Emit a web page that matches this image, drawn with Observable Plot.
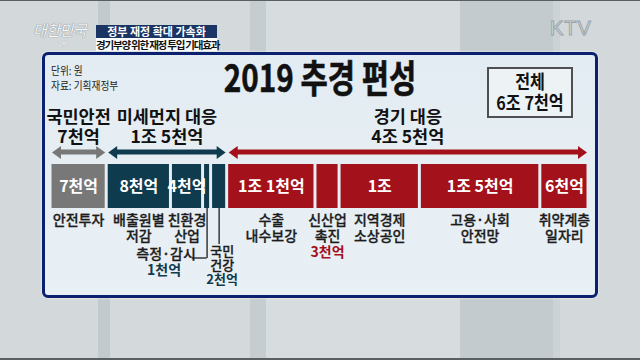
<!DOCTYPE html>
<html>
<head>
<meta charset="utf-8">
<script src="https://cdn.jsdelivr.net/npm/d3@7"></script>
<script src="https://cdn.jsdelivr.net/npm/@observablehq/plot@0.6"></script>
<style>
html,body{margin:0;padding:0;}
body{width:640px;height:360px;overflow:hidden;position:relative;
  font-family:"Noto Sans CJK KR","Noto Sans",sans-serif;
  background:linear-gradient(90deg,#d3d8db 0,#d3d8db 98px,#c3cacd 98px,#c3cacd 110px,#d4d9dc 110px,#d4d9dc 250px,#c6cdd0 250px,#c6cdd0 266px,#d7dcde 266px,#d7dcde 460px,#c4cbcf 460px,#c4cbcf 553px,#ccd2d5 553px,#ccd2d5 560px,#d3d8db 560px);}
.abs{position:absolute;}
#topline{left:0;top:0;width:640px;height:1px;background:#5a5f62;}
#botline{left:0;top:358px;width:640px;height:2px;background:#5a5f62;}
#panel{left:42px;top:52px;width:556px;height:246px;box-sizing:border-box;border:3.5px solid #0b2170;border-radius:6px;
  background:linear-gradient(180deg,#e3ecf2,#e9f0f5);box-shadow:0 0 2px #fff;}
#logo{left:33px;top:21px;font-size:15px;line-height:18px;color:#f6f8f9;font-weight:400;font-style:italic;letter-spacing:-0.5px;
  text-shadow:0 0 1px #7f898e,0 0 1px #7f898e;white-space:nowrap;}
#logo2{left:58px;top:40px;font-size:6px;line-height:8px;color:#f4f6f7;text-shadow:0 0 1px #8f989d;}
#head1{left:96px;top:25px;width:121px;height:13px;background:#1a3464;color:#fff;font-size:11px;font-weight:700;
  text-align:center;line-height:13px;white-space:nowrap;}
#head2{left:96px;top:38px;width:121px;height:13px;background:#fbfcfc;color:#111;font-size:10.5px;font-weight:700;
  letter-spacing:-1.2px;text-align:center;line-height:13px;white-space:nowrap;}
#ktv{left:550px;top:17px;font-family:"Liberation Sans",Arial,sans-serif;font-size:20px;color:#dfe4e6;
  -webkit-text-stroke:1px #9ba4a9;letter-spacing:1px;}
#title{left:0;top:56px;width:640px;text-align:center;font-size:38px;font-weight:700;line-height:40px;color:#111;
  -webkit-text-stroke:0.6px #111;transform:scaleX(.78);transform-origin:320px 0;white-space:nowrap;}
#unit{left:51px;top:63px;font-size:11px;line-height:15px;color:#222;transform:scaleX(.88);transform-origin:0 0;white-space:nowrap;}
#total{left:487px;top:67px;width:86px;height:51px;box-sizing:border-box;border:2px solid #4d4f52;background:#edf2f5;
  text-align:center;font-size:19px;font-weight:700;line-height:21px;padding-top:1px;color:#111;}
#total div{transform:scaleX(.85);white-space:nowrap;}
#chart{left:0;top:0;}
</style>
</head>
<body>
<div class="abs" id="topline"></div>
<div class="abs" id="botline"></div>
<div class="abs" id="logo">대한민국</div>
<div class="abs" id="logo2">2부</div>
<div class="abs" id="head1"></div>
<div class="abs" id="head2"></div>
<div class="abs" id="ktv">KTV</div>
<div class="abs" id="panel"></div>
<div class="abs" id="title"></div>
<div class="abs" id="unit"></div>
<div class="abs" id="total"><div id="t1"></div><div id="t2"></div></div>
<div class="abs" id="chart"></div>
<script>
// ---- data (단위: 천억 원) ----
const segmentNames = ["안전투자", "배출원별\n저감", "친환경\n산업", "측정·감시", "국민\n건강", "수출\n내수보강", "신산업\n촉진", "지역경제\n소상공인", "고용·사회\n안전망", "취약계층\n일자리"];
const segmentValues = [7, 8, 4, 1, 2, 11, 3, 10, 15, 6];
const segmentLabels = ["7천억", "8천억", "4천억", "1천억", "2천억", "1조 1천억", "3천억", "1조", "1조 5천억", "6천억"];
const segmentGroups = ["국민안전", "미세먼지 대응", "미세먼지 대응", "미세먼지 대응", "미세먼지 대응", "경기 대응", "경기 대응", "경기 대응", "경기 대응", "경기 대응"];
const groupNames = ["국민안전", "미세먼지 대응", "경기 대응"];
const groupLabels = ["7천억", "1조 5천억", "4조 5천억"];
const groupColors = ["#787878", "#0f3b4f", "#a3111a"];
const titleText = "2019 추경 편성";
const totalName = "전체";
const totalLabel = "6조 7천억";
const unitText = "단위: 원";
const sourceText = "자료: 기획재정부";
const headline = "정부 재정 확대 가속화";
const subhead = "경기부양 위한 재정 투입 기대효과";

document.getElementById("head1").textContent = headline;
document.getElementById("head2").textContent = subhead;
document.getElementById("title").textContent = titleText;
document.getElementById("unit").innerHTML = unitText + "<br>" + sourceText;
document.getElementById("t1").textContent = totalName;
document.getElementById("t2").textContent = totalLabel;

let acc = 0;
const segments = segmentNames.map((name, i) => {
  const start = acc; acc += segmentValues[i];
  return {name, value: segmentValues[i], label: segmentLabels[i], group: segmentGroups[i], start, end: acc, mid: (start + acc) / 2};
});
const groups = groupNames.map((name, i) => {
  const s = segments.filter(d => d.group === name);
  const start = d3.min(s, d => d.start), end = d3.max(s, d => d.end);
  return {name, start, end, mid: (start + end) / 2, text: name + "\n" + groupLabels[i]};
});
const inside = segments.filter(d => d.value >= 4);
const below = segments.filter(d => d.value >= 3);
const smallRed = segments.filter(d => d.value === 3);
const callLeft = segments.filter(d => d.value === 1);
const callBelow = segments.filter(d => d.value === 2);

const arrowHead = {draw(ctx) { ctx.moveTo(4.5, 0); ctx.lineTo(-4.5, -6.5); ctx.lineTo(-4.5, 6.5); ctx.closePath(); }};
const ink = "#1c1c1c";

const chart = Plot.plot({
  width: 640, height: 360,
  marginTop: 164, marginBottom: 152, marginLeft: 50, marginRight: 52,
  x: {domain: [0, d3.sum(segmentValues)], axis: null},
  color: {domain: groupNames, range: groupColors},
  style: {background: "transparent", fontFamily: "'Noto Sans CJK KR','Noto Sans',sans-serif", overflow: "visible"},
  marks: [
    // group arrows
    Plot.barX(groups, {x1: "start", x2: "end", fill: "name", insetLeft: 9, insetRight: 9, insetTop: 19.5, insetBottom: 19.5, dy: -34}),
    Plot.dot(groups, {x: "start", symbol: arrowHead, rotate: 180, fill: "name", dx: 6, dy: -34}),
    Plot.dot(groups, {x: "end", symbol: arrowHead, fill: "name", dx: -6, dy: -34}),
    Plot.text(groups, {x: "mid", text: "text", frameAnchor: "top", lineAnchor: "bottom", dy: -22, fontSize: 17.5, fontWeight: 700, lineHeight: 1.14, fill: "#111", ariaLabel: "group-label"}),
    // segments
    Plot.barX(segments, {x1: "start", x2: "end", fill: "group", insetLeft: 1.5, insetRight: 1.5}),
    Plot.text(inside, {x: "mid", text: "label", fill: "white", fontSize: 16, fontWeight: 700, ariaLabel: "value-label"}),
    Plot.text(below, {x: "mid", text: "name", frameAnchor: "bottom", lineAnchor: "top", dy: 6, fontSize: 14, fontWeight: 500, lineHeight: 1.1, fill: ink, stroke: ink, strokeWidth: 0.3, ariaLabel: "name-label"}),
    Plot.text(smallRed, {x: "mid", text: "label", frameAnchor: "bottom", lineAnchor: "top", dy: 38.5, fontSize: 14, fontWeight: 700, fill: "group", ariaLabel: "name-label"}),
    // callout: 측정·감시
    Plot.ruleX(callLeft, {x: "mid", stroke: ink, strokeWidth: 1.3, insetTop: 44, insetBottom: -50}),
    Plot.barX(callLeft, {x1: "mid", x2: "mid", insetLeft: -15, insetTop: 21.35, insetBottom: 21.35, dy: 72, fill: ink}),
    Plot.text(callLeft, {x: "mid", text: "name", frameAnchor: "bottom", dx: -41, dy: 50, fontSize: 14, fontWeight: 500, fill: ink, stroke: ink, strokeWidth: 0.3, ariaLabel: "name-label"}),
    Plot.text(callLeft, {x: "mid", text: "label", frameAnchor: "bottom", dx: -43, dy: 66, fontSize: 14, fontWeight: 700, fill: "group", ariaLabel: "name-label"}),
    // callout: 국민 건강
    Plot.ruleX(callBelow, {x: "mid", stroke: ink, strokeWidth: 1.3, insetTop: 44, insetBottom: -36}),
    Plot.text(callBelow, {x: "mid", text: "name", frameAnchor: "bottom", lineAnchor: "top", dx: 3, dy: 37, fontSize: 13, fontWeight: 500, lineHeight: 1.12, fill: ink, stroke: ink, strokeWidth: 0.3, ariaLabel: "name-label"}),
    Plot.text(callBelow, {x: "mid", text: "label", frameAnchor: "bottom", lineAnchor: "top", dx: 3, dy: 66, fontSize: 13, fontWeight: 700, fill: "group", ariaLabel: "name-label"})
  ]
});

// smaller "억" in the bar value labels
chart.querySelectorAll('g[aria-label="value-label"] text').forEach(t => {
  const s = t.textContent;
  if (s.endsWith("억")) {
    t.textContent = "";
    const a = document.createElementNS("http://www.w3.org/2000/svg", "tspan");
    a.textContent = s.slice(0, -1);
    const b = document.createElementNS("http://www.w3.org/2000/svg", "tspan");
    b.textContent = "억";
    b.setAttribute("font-size", "12");
    t.appendChild(a); t.appendChild(b);
  }
});
document.getElementById("chart").appendChild(chart);

// condense text horizontally (the original uses a narrow gothic face)
const squeeze = {"group-label": 0.78, "name-label": 0.88};
for (const [label, k] of Object.entries(squeeze)) {
  chart.querySelectorAll(`g[aria-label="${label}"] text`).forEach(t => {
    t.setAttribute("transform", (t.getAttribute("transform") || "") + ` scale(${k},1)`);
  });
}
// value labels: condense, and fit inside their bar
const xs = chart.scale("x");
chart.querySelectorAll('g[aria-label="value-label"] text').forEach((t, j) => {
  const d = inside[j];
  const barW = xs.apply(d.end) - xs.apply(d.start) - 3;
  const w = t.getBBox().width;
  const k = Math.min(0.8, (barW - 3) / w);
  t.setAttribute("transform", (t.getAttribute("transform") || "") + ` scale(${k.toFixed(3)},1)`);
});
</script>
</body>
</html>
